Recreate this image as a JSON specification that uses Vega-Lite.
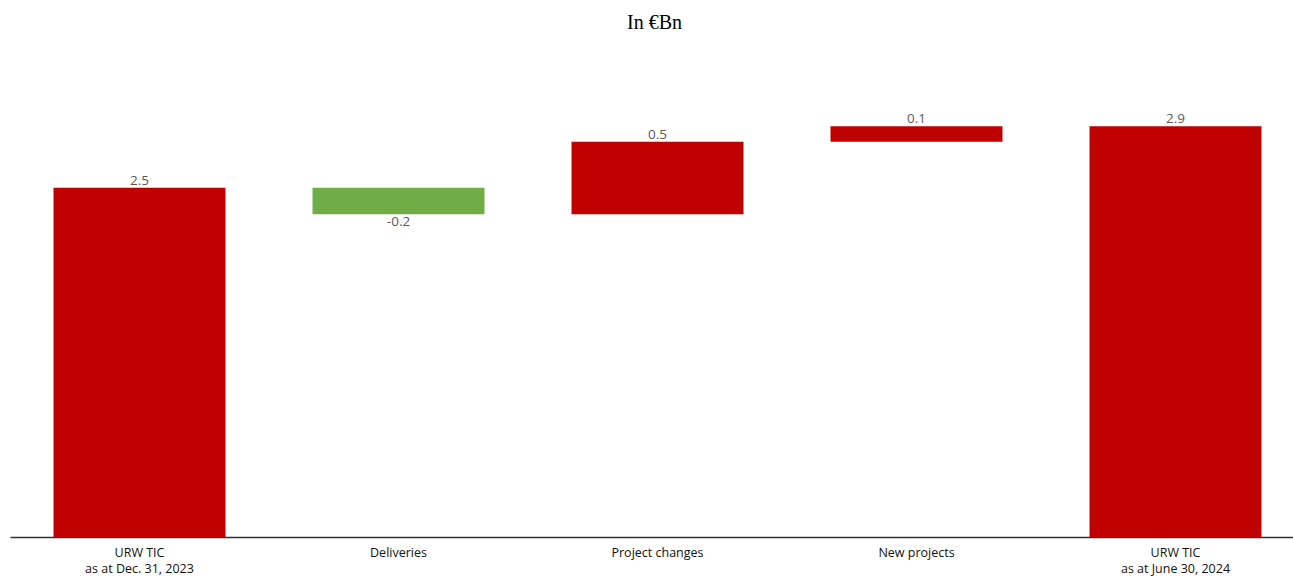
{
  "$schema": "https://vega.github.io/schema/vega-lite/v6.json",
  "autosize": "none",
  "width": 1295,
  "height": 475,
  "padding": {"left": 10, "top": 62, "right": 0, "bottom": 40},
  "background": "white",
  "title": {
    "text": "In €Bn",
    "font": "Liberation Serif",
    "fontSize": 20,
    "fontWeight": "normal",
    "color": "#000000",
    "anchor": "start",
    "offset": 29,
    "dx": 617
  },
  "data": {
    "values": [
      {"step": "URW TIC\nas at Dec. 31, 2023", "start": 0, "end": 2.5, "delta": 2.5, "label": "2.5"},
      {"step": "Deliveries", "start": 2.5, "end": 2.31, "delta": -0.19, "label": "-0.2"},
      {"step": "Project changes", "start": 2.31, "end": 2.83, "delta": 0.52, "label": "0.5"},
      {"step": "New projects", "start": 2.83, "end": 2.94, "delta": 0.11, "label": "0.1"},
      {"step": "URW TIC\nas at June 30, 2024", "start": 0, "end": 2.94, "delta": 2.94, "label": "2.9"}
    ]
  },
  "encoding": {
    "x": {
      "field": "step",
      "type": "nominal",
      "sort": null,
      "scale": {"paddingInner": 0.336, "paddingOuter": 0.168},
      "axis": {
        "title": null,
        "labelAngle": 0,
        "labelExpr": "split(datum.label, '\\n')",
        "labelFont": "Open Sans",
        "labelFontSize": 12.5,
        "labelColor": "#111111",
        "labelPadding": 9,
        "labelLineHeight": 16,
        "ticks": false,
        "domainColor": "#333333",
        "domainWidth": 1.5,
        "grid": false
      }
    }
  },
  "layer": [
    {
      "mark": {"type": "bar"},
      "encoding": {
        "y": {
          "field": "start",
          "type": "quantitative",
          "scale": {"domain": [0, 3.4], "nice": false},
          "axis": null
        },
        "y2": {"field": "end"},
        "color": {
          "condition": {"test": "datum.delta < 0", "value": "#70AD47"},
          "value": "#C00000"
        }
      }
    },
    {
      "transform": [{"filter": "datum.delta >= 0"}],
      "mark": {"type": "text", "baseline": "bottom", "dy": 0, "font": "Open Sans", "fontSize": 13.5, "color": "#595959"},
      "encoding": {
        "y": {"field": "end", "type": "quantitative"},
        "text": {"field": "label", "type": "nominal"}
      }
    },
    {
      "transform": [{"filter": "datum.delta < 0"}],
      "mark": {"type": "text", "baseline": "top", "dy": 1, "font": "Open Sans", "fontSize": 13.5, "color": "#595959"},
      "encoding": {
        "y": {"field": "end", "type": "quantitative"},
        "text": {"field": "label", "type": "nominal"}
      }
    }
  ],
  "config": {"view": {"stroke": null}}
}
